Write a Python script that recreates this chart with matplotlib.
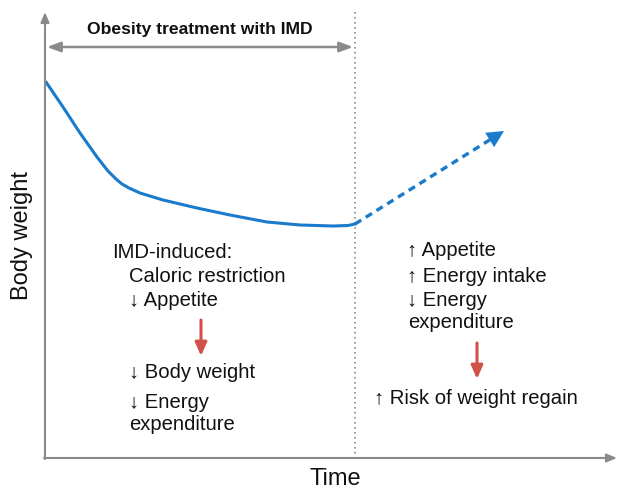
import matplotlib
matplotlib.use("Agg")
import matplotlib.pyplot as plt
import numpy as np

plt.rcParams['font.family'] = ['Liberation Sans', 'DejaVu Sans']

# Conceptual curve (pixel-like coordinates: x = time, y = body weight, y grows downward)
time_treat = [46, 63, 80, 97, 108, 116, 122, 129, 140, 163, 197, 230, 267, 300, 333, 348, 355]
weight_treat = [82, 107, 133, 157, 171, 179, 184, 188, 193, 200, 208, 215, 222, 225, 226, 225.5, 224]
time_regain = [355, 504]
weight_regain = [224, 131]
treatment_end = 355

title_text = "Obesity treatment with IMD"
left_lines = ["IMD-induced:", "Caloric restriction", "\u2193 Appetite", "\u2193 Body weight", "\u2193 Energy", "expenditure"]
right_lines = ["\u2191 Appetite", "\u2191 Energy intake", "\u2193 Energy", "expenditure", "\u2191 Risk of weight regain"]

W, H = 625, 491
fig = plt.figure(figsize=(W/100, H/100), dpi=100)
ax = fig.add_axes([0, 0, 1, 1])
ax.set_xlim(0, W)
ax.set_ylim(H, 0)
ax.axis('off')

gray = '#8a8a8a'
blue = '#1a7acb'
red = '#d2504a'
txt = '#111111'

# axes arrows
ax.annotate('', xy=(45, 12), xytext=(45, 459),
            arrowprops=dict(arrowstyle='-|>,head_length=0.6,head_width=0.25', color=gray, lw=1.5, shrinkA=0, shrinkB=0))
ax.annotate('', xy=(617, 458), xytext=(44, 458),
            arrowprops=dict(arrowstyle='-|>,head_length=0.6,head_width=0.25', color=gray, lw=1.5, shrinkA=0, shrinkB=0))
# dotted vertical line
ax.plot([treatment_end, treatment_end], [12, 458], color=gray, lw=1.2, ls=(0, (1, 2)))
# double arrow
ax.annotate('', xy=(47, 47), xytext=(353, 47),
            arrowprops=dict(arrowstyle='<|-|>,head_length=0.8,head_width=0.3', color=gray, lw=1.8, shrinkA=0, shrinkB=0))
ax.text(200, 29, title_text, ha='center', va='center', fontsize=12.6, fontweight='bold', color=txt)

# curve
ax.plot(time_treat, weight_treat, color=blue, lw=2.2, solid_capstyle='round', solid_joinstyle='round')
x0, y0 = time_regain[0], weight_regain[0]
x1, y1 = time_regain[1], weight_regain[1]
dx, dy = x1 - x0, y1 - y0
L = np.hypot(dx, dy)
ux, uy = dx / L, dy / L
ax.plot([x0, x1 - 14 * ux], [y0, y1 - 14 * uy], color=blue, lw=2.4, ls=(0, (2.2, 1.6)))
ax.annotate('', xy=(x1, y1), xytext=(x1 - 16 * ux, y1 - 16 * uy),
            arrowprops=dict(arrowstyle='-|>,head_length=1.2,head_width=0.6', color=blue, lw=0.1, shrinkA=0, shrinkB=0))

# axis labels
ax.text(22, 235, "Body weight", rotation=90, ha='center', va='center', fontsize=17, color=txt)
ax.text(335, 479, "Time", ha='center', va='center', fontsize=17, color=txt)

fs = 14.6
# left block
ax.text(112, 252, left_lines[0], ha='left', va='center', fontsize=fs, color=txt)
ax.text(129, 276, left_lines[1], ha='left', va='center', fontsize=fs, color=txt)
ax.text(129, 301, left_lines[2], ha='left', va='center', fontsize=fs, color=txt)
ax.annotate('', xy=(201, 356), xytext=(201, 320),
            arrowprops=dict(arrowstyle='-|>,head_length=0.8,head_width=0.35', color=red, lw=2.2, shrinkA=0, shrinkB=0))
ax.text(129, 373, left_lines[3], ha='left', va='center', fontsize=fs, color=txt)
ax.text(129, 402, left_lines[4], ha='left', va='center', fontsize=fs, color=txt)
ax.text(129, 424, left_lines[5], ha='left', va='center', fontsize=fs, color=txt)

# right block
ax.text(407, 250, right_lines[0], ha='left', va='center', fontsize=fs, color=txt)
ax.text(407, 276, right_lines[1], ha='left', va='center', fontsize=fs, color=txt)
ax.text(407, 301, right_lines[2], ha='left', va='center', fontsize=fs, color=txt)
ax.text(408, 323, right_lines[3], ha='left', va='center', fontsize=fs, color=txt)
ax.annotate('', xy=(477, 379), xytext=(477, 343),
            arrowprops=dict(arrowstyle='-|>,head_length=0.8,head_width=0.35', color=red, lw=2.2, shrinkA=0, shrinkB=0))
ax.text(374, 398, right_lines[4], ha='left', va='center', fontsize=fs, color=txt)

fig.savefig('out.png', dpi=100)
